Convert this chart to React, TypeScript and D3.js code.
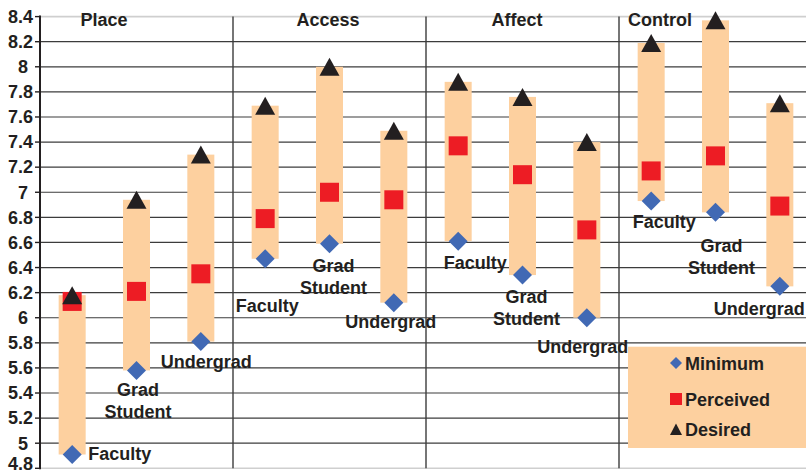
import React from "react";
import * as d3 from "d3";

const groups = ["Place", "Access", "Affect", "Control"];
const respondents = ["Faculty", "Grad Student", "Undergrad"];
const minimum = [4.91, 5.58, 5.81, 6.47, 6.59, 6.12, 6.61, 6.34, 6.0, 6.93, 6.84, 6.25];
const perceived = [6.13, 6.21, 6.35, 6.79, 7.0, 6.94, 7.37, 7.14, 6.7, 7.17, 7.29, 6.89];
const desired = [6.18, 6.94, 7.3, 7.69, 8.0, 7.49, 7.88, 7.76, 7.4, 8.19, 8.37, 7.71];
const yTickLabels = ["4.8", "5", "5.2", "5.4", "5.6", "5.8", "6", "6.2", "6.4", "6.6", "6.8", "7", "7.2", "7.4", "7.6", "7.8", "8", "8.2", "8.4"];
const legendItems = ["Minimum", "Perceived", "Desired"];

// layout only (label placement relative to the minimum marker)
const labelOffsets = [
  { dx: 47.5, dy: 6 }, { dx: 1.5, dy: 26 }, { dx: 5.5, dy: 26.6 },
  { dx: 2, dy: 53.4 }, { dx: 4, dy: 28.7 }, { dx: -3, dy: 25 },
  { dx: 17, dy: 27.6 }, { dx: 4, dy: 27.7 }, { dx: -4, dy: 35 },
  { dx: 13, dy: 26.7 }, { dx: 6, dy: 39.3 }, { dx: -20.5, dy: 28.3 },
];
const titleX = [104, 328, 517, 660];

const W = 806;
const H = 474;
const left = 40;
const right = 812;
const top = 16.6;
const bottom = 468.3;

const BAR = "#fdd09f";
const BLUE = "#4169b4";
const RED = "#ed1c24";
const DARK = "#231f20";
const FONT = "'Liberation Sans', Arial, Helvetica, sans-serif";

export default function App() {
  const cats = groups.flatMap((g) => respondents.map((r) => `${g}|${r}`));
  const x = d3.scaleBand<string>().domain(cats).range([left, right]).padding(0);
  const y = d3.scaleLinear().domain([4.8, 8.4]).range([bottom, top]);
  const groupX = d3.scaleBand<string>().domain(groups).range([left, right]).padding(0);
  const ticks = yTickLabels.map((t) => +t);
  const barW = 27;
  const dm = 9.5; // diamond half diag
  const sq = 19;
  const tri = (cx: number, cy: number, w: number, h: number) =>
    `M${cx},${cy - h / 2}L${cx + w / 2},${cy + h / 2}L${cx - w / 2},${cy + h / 2}Z`;
  const dia = (cx: number, cy: number, r: number) =>
    `M${cx},${cy - r}L${cx + r},${cy}L${cx},${cy + r}L${cx - r},${cy}Z`;

  return (
    <svg
      width={W}
      height={H}
      style={{ position: "fixed", left: 0, top: 0, background: "#fff" }}
      fontFamily={FONT}
    >
      {/* gridlines */}
      {ticks.map((t, i) => {
        const edge = i === 0 || i === ticks.length - 1;
        return (
          <line
            key={"g" + i}
            x1={left}
            x2={W}
            y1={y(t)}
            y2={y(t)}
            stroke={edge ? "#cfcfcf" : "#3c3c3c"}
            strokeWidth={edge ? 1.6 : 1.2}
          />
        );
      })}
      {/* group separators */}
      {groups.slice(1).map((g) => (
        <line
          key={"s" + g}
          x1={groupX(g)!}
          x2={groupX(g)!}
          y1={top}
          y2={bottom}
          stroke="#3c3c3c"
          strokeWidth={1.4}
        />
      ))}
      {/* y axis */}
      <line x1={left} x2={left} y1={top - 1} y2={bottom + 1} stroke={DARK} strokeWidth={2} />
      {ticks.map((t, i) => (
        <g key={"t" + i}>
          <line x1={left - 5} x2={left} y1={y(t)} y2={y(t)} stroke={DARK} strokeWidth={1.4} />
          <text
            x={Number.isInteger(t) ? 28 : 33}
            y={Math.min(y(t) + 6.3, 469.5)}
            textAnchor="end"
            fontSize={18}
            fontWeight="bold"
            fill={DARK}
          >
            {yTickLabels[i]}
          </text>
        </g>
      ))}
      {/* bars */}
      {cats.map((c, i) => {
        const cx = x(c)! + x.bandwidth() / 2;
        return (
          <rect
            key={"b" + i}
            x={cx - barW / 2}
            y={y(desired[i])}
            width={barW}
            height={y(minimum[i]) - y(desired[i])}
            fill={BAR}
          />
        );
      })}
      {/* markers */}
      {cats.map((c, i) => {
        const cx = x(c)! + x.bandwidth() / 2;
        return <path key={"d" + i} d={dia(cx, y(minimum[i]), dm)} fill={BLUE} />;
      })}
      {cats.map((c, i) => {
        const cx = x(c)! + x.bandwidth() / 2;
        return (
          <rect key={"p" + i} x={cx - sq / 2} y={y(perceived[i]) - sq / 2} width={sq} height={sq} fill={RED} />
        );
      })}
      {cats.map((c, i) => {
        const cx = x(c)! + x.bandwidth() / 2;
        return <path key={"u" + i} d={tri(cx, y(desired[i]), 20, 18)} fill={DARK} />;
      })}
      {/* point labels */}
      {cats.map((c, i) => {
        const cx = x(c)! + x.bandwidth() / 2;
        const cy = y(minimum[i]);
        const o = labelOffsets[i];
        const words = respondents[i % 3] === "Grad Student" ? ["Grad", "Student"] : [respondents[i % 3]];
        return (
          <text key={"l" + i} textAnchor="middle" fontSize={18} fontWeight="bold" fill={DARK}>
            {words.map((w, k) => (
              <tspan key={k} x={cx + o.dx} y={cy + o.dy + k * 22}>
                {w}
              </tspan>
            ))}
          </text>
        );
      })}
      {/* group titles */}
      {groups.map((g, i) => (
        <text key={"h" + g} x={titleX[i]} y={26} textAnchor="middle" fontSize={18} fontWeight="bold" fill={DARK}>
          {g}
        </text>
      ))}
      {/* legend */}
      <rect x={628} y={346.7} width={W - 628} height={101.3} fill={BAR} />
      {legendItems.map((name, i) => {
        const cy = [363, 399, 429.3][i];
        const mx = 676;
        return (
          <g key={"lg" + name}>
            {i === 0 && <path d={dia(mx, cy, 6)} fill={BLUE} />}
            {i === 1 && <rect x={mx - 6} y={cy - 6} width={12} height={12} fill={RED} />}
            {i === 2 && <path d={tri(mx, cy, 12, 11.5)} fill={DARK} />}
            <text x={685} y={cy + 6.5} fontSize={18} fontWeight="bold" fill={DARK}>
              {name}
            </text>
          </g>
        );
      })}
    </svg>
  );
}
